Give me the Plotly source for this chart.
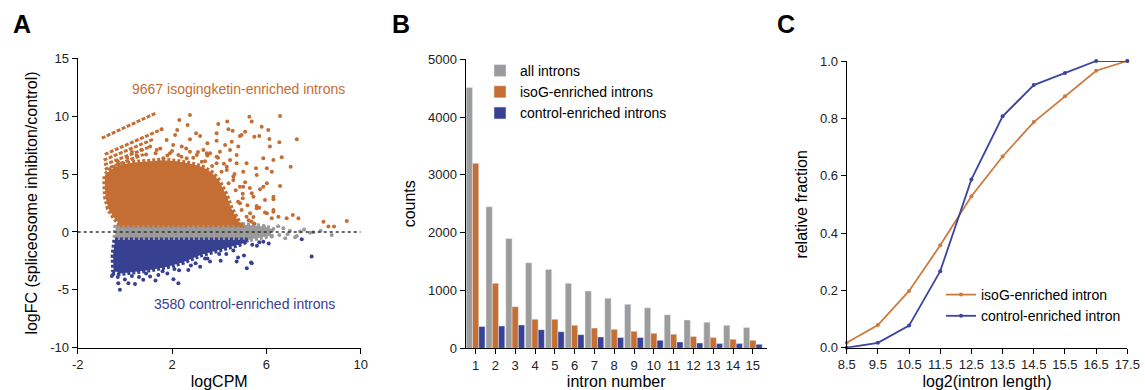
import plotly.graph_objects as go

# ---------------- Panel A data (MA plot, dense clouds as envelopes + read outliers) ----------------
orange_cloud_x = [-0.2, -0.45, -0.7, -0.82, -0.85, -0.84, -0.6, -0.2, 0.4, 1.0, 1.6, 2.2, 2.8, 3.3, 3.7, 4.0, 4.3, 4.5, 4.7, 4.9]
orange_cloud_y = [0.6, 1.2, 2.0, 3.0, 4.0, 4.9, 5.4, 5.8, 6.0, 6.1, 6.2, 6.1, 5.9, 5.6, 5.1, 4.4, 3.2, 2.1, 1.3, 0.6]

gray_cloud_x = [-0.38, -0.42, 5.2, 5.8, 6.2, 6.2, 5.8, 5.0]
gray_cloud_y = [0.6, -0.7, -0.7, -0.5, -0.3, 0.3, 0.5, 0.65]

blue_cloud_x = [-0.42, 5.2, 5.0, 4.4, 3.8, 3.2, 2.5, 1.8, 1.0, 0.4, -0.2, -0.48, -0.5]
blue_cloud_y = [-0.7, -0.7, -1.0, -1.3, -1.6, -2.0, -2.6, -3.0, -3.3, -3.5, -3.6, -3.3, -2.0]

# low-count streaks (start/end of each diagonal line of points)
streak_x0 = [-0.98, -0.85, -0.9, -0.88, -0.85]
streak_y0 = [8.1, 6.7, 6.2, 5.8, 5.4]
streak_x1 = [1.35, 1.6, 1.2, 1.0, 0.8]
streak_y1 = [10.3, 8.9, 8.0, 7.3, 6.7]

orange_pts_x = [2.76, 2.31, 2.66, 3.96, 4.39, 3.89, 2.22, 2.13, 3.02, 2.76, 3.19, 3.5, 3.89, 4.25, 4.53, 4.88, 5.1,
                6.58, 5.28, 5.38, 4.34, 5.8, 6.08, 7.29, 6.55, 6.13, 5.49, 5.7, 4.57, 4.95, 6.15, 6.65, 5.87, 6.3,
                6.23, 7.03, 5.56, 6.02, 6.58, 5.73, 5.94, 6.3, 6.3, 5.94, 6.51, 6.86, 7.36, 7.12, 8.42, 9.41, 8.63,
                8.87, 5.45, 5.59, 5.31,
                4.74, 5.16, 6.02, 5.59, 5.02, 5.38, 5.87, 6.3, 4.88, 5.59, 6.02, 5.16, 6.3, 4.53, 5.38, 6.23, 4.32,
                4.6, 4.46, 3.89, 3.47,
                1.56, 1.77, 2.05, 2.41, 2.76, 3.05, 3.33, 3.61, 4.03, 4.46, 4.81, 1.35, 1.07, 1.91, 2.27, 1.63, 2.62,
                3.26, 3.89, 4.32, 4.74, 5.02, 4.6, 4.88,
                -0.3, 0.1, 0.5, 0.9, 1.3, 1.8, 2.4, 2.9, 3.4, 3.7, 4.1, 4.4, 4.7, 5.0, 5.2, 4.95, 5.25, 5.45, 5.1,
                0.3, 0.7, 1.5, 2.0, 2.6, 3.1, 3.5, 3.95, 4.2, 4.65, 5.0, 5.3, 4.8, 5.7, 5.5]
orange_pts_y = [10.1, 9.67, 9.24, 9.33, 8.87, 8.52, 8.81, 8.38, 8.52, 8.0, 8.29, 7.66, 7.88, 7.51, 7.8, 8.29, 8.66,
                10.02, 9.96, 9.53, 9.53, 9.09, 8.81, 8.0, 7.74, 8.03, 8.23, 8.29, 8.75, 8.38, 7.37, 6.45, 6.36, 6.22,
                5.21, 5.64, 5.5, 4.2, 3.97, 3.69, 2.76, 2.82, 1.9, 1.67, 1.32, 1.18, 1.18, 1.47, 0.89, 0.95, 0.46,
                0.46, 3.05, 2.25, 1.61,
                6.65, 5.93, 5.5, 4.92, 3.91, 3.34, 3.91, 3.05, 2.48, 2.05, 1.61, 1.32, 1.75, 1.61, 0.89, 1.18, 5.35,
                4.49, 6.22, 6.5, 6.8,
                8.87, 7.94, 7.51, 7.37, 6.93, 6.65, 7.08, 6.8, 6.93, 7.08, 7.37, 7.08, 7.37, 6.8, 6.65, 6.36, 6.36,
                6.07, 5.93, 5.64, 5.93, 5.21, 4.78, 3.91,
                6.1, 6.4, 6.6, 6.7, 6.8, 6.6, 6.5, 6.4, 6.1, 5.7, 5.2, 4.2, 3.6, 2.9, 2.3, 1.9, 1.0, 1.3, 4.3,
                6.9, 7.1, 7.2, 7.0, 7.2, 6.9, 6.6, 6.4, 5.9, 5.0, 3.3, 3.8, 2.6, 2.1, 0.7]

gray_pts_x = [6.3, 6.55, 6.72, 7.0, 7.22, 7.29, 7.43, 7.85, 7.99, 8.77, 6.23, 6.8, 5.9, 6.5, 8.3, 6.9, 7.6]
gray_pts_y = [0.25, -0.26, 0.32, 0.11, -0.46, -0.35, 0.03, -0.06, -0.03, -0.26, -0.4, -0.55, 0.45, 0.5, 0.1, -0.2, 0.2]

blue_pts_x = [-0.21, -0.28, 0.15, 0.43, 0.78, 1.07, 1.42, 2.06, 2.27, 2.69, 3.19, 3.61, 4.06, 4.74, 5.17, 5.38, 4.8,
              -0.49, -0.55, 0.0, 0.6, 1.3, 1.8, 2.3, 3.0, 3.4, 4.3, 5.05, 5.35, 5.6, 5.87, 6.1, 7.5, 7.92,
              -0.3, 0.3, 0.9, 1.6, 2.1, 2.8, 3.5, 4.0, 4.6, 5.4, 5.7]
blue_pts_y = [-5.0, -4.43, -4.43, -4.5, -4.14, -3.86, -3.71, -4.09, -4.43, -3.28, -3.0, -2.56, -2.48, -2.56, -3.14,
              -2.7, -2.2, -3.63, -3.8, -4.1, -3.9, -4.2, -3.6, -3.3, -2.7, -2.3, -1.9, -2.04, -2.65, -1.2, -0.84,
              -1.0, -0.63, -2.13,
              -3.9, -3.8, -3.6, -3.4, -3.2, -2.9, -2.3, -1.9, -1.6, -1.1, -0.9]

zero_line_x = [-2, 10]
zero_line_y = [0, 0]

a_xticks = [-2, 2, 6, 10]
a_xticklabels = ["-2", "2", "6", "10"]
a_yticks = [-10, -5, 0, 5, 10, 15]
a_yticklabels = ["-10", "-5", "0", "5", "10", "15"]

# ---------------- Panel B data ----------------
intron_number = list(range(1, 16))
all_introns = [4510, 2450, 1900, 1480, 1365, 1125, 990, 865, 760, 700, 580, 490, 450, 398, 362]
isog_introns = [3200, 1125, 720, 502, 502, 398, 350, 328, 294, 260, 242, 202, 185, 156, 138]
control_introns = [378, 386, 404, 323, 288, 236, 196, 185, 185, 138, 110, 92, 81, 81, 69]
b_yticks = [0, 1000, 2000, 3000, 4000, 5000]

# ---------------- Panel C data ----------------
log2_len = [8.5, 9.5, 10.5, 11.5, 12.5, 13.5, 14.5, 15.5, 16.5, 17.5]
isog_frac = [0.017, 0.079, 0.198, 0.357, 0.528, 0.667, 0.787, 0.877, 0.966, 1.0]
control_frac = [0.0, 0.017, 0.077, 0.267, 0.587, 0.807, 0.916, 0.958, 1.0, 1.0]
c_yticks = [0, 0.2, 0.4, 0.6, 0.8, 1.0]

ORANGE = "#C46E34"
BLUE = "#384091"
GRAY = "#9A9A9A"
FONT = "Liberation Sans, Arial, sans-serif"

fig = go.Figure()

# Panel A
for cx, cy, col in [(gray_cloud_x, gray_cloud_y, GRAY), (orange_cloud_x, orange_cloud_y, ORANGE),
                    (blue_cloud_x, blue_cloud_y, BLUE)]:
    fig.add_trace(go.Scatter(x=cx + cx[:1], y=cy + cy[:1], fill="toself", mode="lines",
                             line=dict(color=col, width=5, dash="3px,2px"), fillcolor=col, showlegend=False,
                             hoverinfo="skip", xaxis="x", yaxis="y"))
for i in range(len(streak_x0)):
    fig.add_trace(go.Scatter(x=[streak_x0[i], streak_x1[i]], y=[streak_y0[i], streak_y1[i]], mode="lines",
                             line=dict(color=ORANGE, width=3, dash="4px,1.5px"), showlegend=False,
                             xaxis="x", yaxis="y"))
fig.add_trace(go.Scatter(x=orange_pts_x, y=orange_pts_y, mode="markers",
                         marker=dict(color=ORANGE, size=4), showlegend=False, xaxis="x", yaxis="y"))
fig.add_trace(go.Scatter(x=gray_pts_x, y=gray_pts_y, mode="markers",
                         marker=dict(color=GRAY, size=4), showlegend=False, xaxis="x", yaxis="y"))
fig.add_trace(go.Scatter(x=blue_pts_x, y=blue_pts_y, mode="markers",
                         marker=dict(color=BLUE, size=4), showlegend=False, xaxis="x", yaxis="y"))
fig.add_trace(go.Scatter(x=zero_line_x, y=zero_line_y, mode="lines",
                         line=dict(color="#333333", width=1.5, dash="dot"), showlegend=False,
                         xaxis="x", yaxis="y"))

# Panel B
fig.add_trace(go.Bar(x=intron_number, y=all_introns, name="all introns", marker_color="#9C9C9C",
                     xaxis="x2", yaxis="y2", legend="legend"))
fig.add_trace(go.Bar(x=intron_number, y=isog_introns, name="isoG-enriched introns", marker_color="#C66F33",
                     xaxis="x2", yaxis="y2", legend="legend"))
fig.add_trace(go.Bar(x=intron_number, y=control_introns, name="control-enriched introns", marker_color="#394195",
                     xaxis="x2", yaxis="y2", legend="legend"))

# Panel C
fig.add_trace(go.Scatter(x=log2_len, y=isog_frac, mode="lines+markers", name="isoG-enriched intron",
                         line=dict(color="#CD7A3E", width=1.8), marker=dict(size=4), cliponaxis=False,
                         xaxis="x3", yaxis="y3", legend="legend2"))
fig.add_trace(go.Scatter(x=log2_len, y=control_frac, mode="lines+markers", name="control-enriched intron",
                         line=dict(color="#3D44A0", width=1.8), marker=dict(size=4), cliponaxis=False,
                         xaxis="x3", yaxis="y3", legend="legend2"))

W, H = 1145, 390
def dx(a, b):
    return [a / W, b / W]
def dy(top, bottom):
    return [(H - bottom) / H, (H - top) / H]

axis_common = dict(showline=True, linecolor="black", linewidth=1.2, ticks="outside", ticklen=5,
                   tickcolor="black", tickwidth=1.2, showgrid=False, zeroline=False, automargin=False,
                   tickfont=dict(family=FONT, size=13, color="#222222"),
                   title_font=dict(family=FONT, size=16, color="black"))

fig.update_layout(
    width=W, height=H, margin=dict(l=0, r=0, t=0, b=0, autoexpand=False),
    paper_bgcolor="white", plot_bgcolor="white",
    font=dict(family=FONT, color="black"),
    barmode="group", bargap=0.05, bargroupgap=0,
    xaxis=dict(domain=dx(77.7, 360.7), range=[-2, 10], tickvals=a_xticks, ticktext=a_xticklabels, anchor="y",
               title=dict(text="logCPM", standoff=5), **axis_common),
    yaxis=dict(domain=dy(58.3, 347.7), range=[-10, 15], tickvals=a_yticks, ticktext=a_yticklabels, anchor="x",
               title=dict(text="logFC (spliceosome inhibiton/control)", standoff=8), **axis_common),
    xaxis2=dict(domain=dx(465.7, 766.7), range=[0.5, 15.7], tickvals=intron_number, anchor="y2",
                title=dict(text="intron number", standoff=5), **axis_common),
    yaxis2=dict(domain=dy(59.3, 348.3), range=[0, 5000], tickvals=b_yticks, anchor="x2",
                title=dict(text="counts", standoff=8), **axis_common),
    xaxis3=dict(domain=dx(846.7, 1127.3), range=[8.5, 17.5], tickvals=log2_len, tickformat=".1f", anchor="y3",
                title=dict(text="log2(intron length)", standoff=5), **axis_common),
    yaxis3=dict(domain=dy(61, 347.7), range=[0, 1.0], tickvals=c_yticks, tickformat=".1f",
                anchor="x3", title=dict(text="relative fraction", standoff=8), **axis_common),
    legend=dict(x=480 / W, y=(H - 55) / H, xanchor="left", yanchor="top", bgcolor="rgba(0,0,0,0)",
                font=dict(family=FONT, size=14, color="black")),
    legend2=dict(x=941 / W, y=(H - 279) / H, xanchor="left", yanchor="top", bgcolor="rgba(0,0,0,0)",
                 font=dict(family=FONT, size=14, color="black")),
    annotations=[
        dict(text="<b>A</b>", x=11 / W, y=(H - 24) / H, xref="paper", yref="paper", xanchor="left",
             yanchor="middle", showarrow=False, font=dict(family=FONT, size=25, color="black")),
        dict(text="<b>B</b>", x=390 / W, y=(H - 24) / H, xref="paper", yref="paper", xanchor="left",
             yanchor="middle", showarrow=False, font=dict(family=FONT, size=25, color="black")),
        dict(text="<b>C</b>", x=775 / W, y=(H - 24) / H, xref="paper", yref="paper", xanchor="left",
             yanchor="middle", showarrow=False, font=dict(family=FONT, size=25, color="black")),
        dict(text="9667 isogingketin-enriched introns", x=130 / W, y=(H - 89) / H, xref="paper", yref="paper",
             xanchor="left", yanchor="middle", showarrow=False, font=dict(family=FONT, size=14, color=ORANGE)),
        dict(text="3580 control-enriched introns", x=151.5 / W, y=(H - 304) / H, xref="paper", yref="paper",
             xanchor="left", yanchor="middle", showarrow=False, font=dict(family=FONT, size=14, color=BLUE)),
    ],
)

fig.write_html("out.html")
